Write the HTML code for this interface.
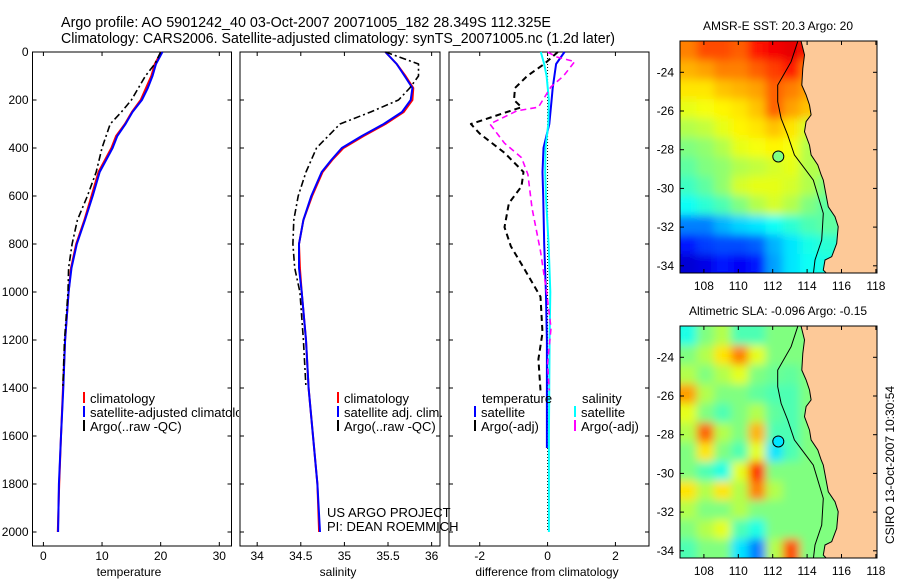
<!DOCTYPE html>
<html><head><meta charset="utf-8">
<style>
html,body{margin:0;padding:0;background:#fff;}
svg{display:block;font-family:"Liberation Sans",Arial,sans-serif;}
text{font-size:12px;fill:#000;}
</style></head>
<body>
<svg id="fig" width="900" height="580" viewBox="0 0 900 580" xmlns="http://www.w3.org/2000/svg">
<defs>
<filter id="smooth" x="-5%" y="-5%" width="110%" height="110%">
<feGaussianBlur stdDeviation="4.5"/>
<feComponentTransfer><feFuncA type="table" tableValues="1 1"/></feComponentTransfer>
</filter>
<clipPath id="clipTop"><rect x="680" y="41" width="197" height="232"/></clipPath>
<clipPath id="clipBot"><rect x="680" y="326" width="197" height="232"/></clipPath>
<clipPath id="clipLeg1"><rect x="0" y="0" width="239" height="580"/></clipPath>
</defs>
<text x="61" y="27" textLength="490" lengthAdjust="spacingAndGlyphs" style="font-size:15px">Argo profile: AO 5901242_40 03-Oct-2007 20071005_182 28.349S 112.325E</text>
<text x="61" y="43" textLength="554" lengthAdjust="spacingAndGlyphs" style="font-size:15px">Climatology: CARS2006. Satellite-adjusted climatology: synTS_20071005.nc (1.2d later)</text>
<g id="layer"></g>
</svg>
<script>
// ---------- DATA ----------
const tDepth = [0,50,100,150,200,250,300,350,400,500,600,700,800,900,1000,1200,1400,1600,1800,2000];
const tClim  = [20.1,19.0,18.4,17.5,16.6,15.1,13.9,12.4,11.6,9.4,8.2,7.0,5.6,4.7,4.3,3.7,3.35,3.0,2.7,2.45];
const tSat   = [20.3,19.2,18.6,17.8,16.8,15.2,14.0,12.6,11.8,9.6,8.4,7.1,5.7,4.8,4.3,3.7,3.4,3.0,2.65,2.5];
const aDepth = [0,50,100,150,200,250,300,400,500,600,700,800,900,1000,1200,1400];
const tArgo  = [20.0,19.0,17.4,16.2,15.0,13.3,11.4,10.0,9.0,7.5,5.8,4.9,4.3,4.2,3.6,3.3];
const sDepth = [0,50,100,150,200,250,300,350,400,450,500,600,700,800,900,1000,1200,1400,1600,1800,2000];
const sClim  = [35.47,35.6,35.70,35.79,35.78,35.68,35.47,35.22,34.99,34.86,34.75,34.63,34.53,34.48,34.49,34.51,34.56,34.59,34.64,34.69,34.71];
const sSat   = [35.47,35.6,35.69,35.78,35.76,35.66,35.45,35.20,34.97,34.85,34.74,34.62,34.53,34.48,34.48,34.51,34.56,34.59,34.64,34.69,34.72];
const sArgo  = [35.47,35.85,35.85,35.75,35.62,35.30,34.95,34.68,34.56,34.47,34.42,34.41,34.43,34.49,34.53,34.56];
const dtSatDepth = [0,50,100,150,200,300,400,500,600,800,1000,1200,1400,1650];
const dtSat  = [0.5,0.25,0.2,0.15,0.12,0.05,-0.12,-0.15,-0.13,-0.1,-0.05,-0.02,-0.02,-0.02];
const dsSatDepth = [0,50,100,200,300,400,500,600,800,1000,1200,1600,2000];
const dsSat  = [-0.2,-0.1,-0.03,0.04,0.02,-0.06,-0.07,-0.05,0.03,0.08,0.06,0.04,0.04];
const dtArgoDepth = [0,50,100,150,200,230,300,340,420,500,560,630,730,810,900,1020,1170,1280,1410];
const dtArgo = [0.3,-0.1,-0.6,-0.96,-0.99,-0.77,-2.26,-2.0,-1.27,-0.71,-0.77,-1.14,-1.27,-1.08,-0.7,-0.21,-0.15,-0.27,-0.21];
const dsArgoDepth = [0,20,40,100,145,230,245,300,380,440,510,650,830,1000,1150,1300,1410];
const dsArgo = [0.0,0.25,0.8,0.47,0.1,-0.27,-0.9,-1.7,-1.27,-0.77,-0.58,-0.46,-0.21,-0.03,0.1,0.0,0.05];
const depthTicks = [0,200,400,600,800,1000,1200,1400,1600,1800,2000];
const tTicks = [0,10,20,30];
const sTicks = [34,34.5,35,35.5,36];
const sTickLabels = ["34","34.5","35","35.5","36"];
const dTicks = [-2,0,2];
const sstGrid = [
 [21.5,21.8,21.8,21.7,22.1,22.3,22.4,22.1,22.1,22.1,22.1,22.1],
 [21.2,21.3,21.5,21.5,21.7,21.9,22.1,21.5,21.5,21.5,21.5,21.5],
 [20.9,20.9,21.1,21.2,21.3,21.7,21.5,21.3,21.3,21.3,21.3,21.3],
 [20.6,20.7,20.8,20.9,21.1,21.7,21.3,21.1,21.1,21.1,21.1,21.1],
 [20.3,20.4,20.6,20.8,20.9,21.1,20.9,20.5,20.5,20.5,20.5,20.5],
 [20.0,20.1,20.3,20.6,20.7,20.8,20.7,20.3,20.3,20.3,20.3,20.3],
 [19.8,20.0,20.1,20.3,20.4,20.5,20.6,20.3,20.3,20.3,20.3,20.3],
 [19.6,19.8,20.1,20.5,20.6,20.6,20.5,20.3,20.0,20.0,20.0,20.0],
 [19.3,19.5,19.7,20.0,20.3,20.5,20.3,20.0,19.8,19.8,19.8,19.8],
 [18.5,18.5,18.8,19.0,19.1,19.3,19.5,19.7,19.8,19.8,19.8,19.8],
 [17.9,18.1,18.2,18.2,18.3,18.8,19.1,19.4,19.5,19.5,19.5,19.5],
 [17.5,17.6,17.9,17.7,17.9,18.7,19.1,19.3,19.4,19.4,19.4,19.4]];
const slaGrid = [
 [-0.10,0.00,0.05,-0.05,-0.05,0.00,0.00,0.00,0,0,0,0],
 [0.00,0.05,0.15,0.25,0.10,0.00,0.00,0.00,0,0,0,0],
 [0.05,0.00,0.05,0.10,0.00,-0.02,-0.03,0.00,0,0,0,0],
 [0.22,0.05,0.00,0.00,-0.03,-0.05,-0.05,0.00,0,0,0,0],
 [0.10,0.00,-0.05,0.00,0.05,-0.03,-0.05,0.00,0,0,0,0],
 [0.05,0.28,0.05,0.00,0.20,-0.05,-0.05,0.00,0,0,0,0],
 [0.00,0.15,0.00,-0.05,0.10,-0.15,-0.05,0.00,0,0,0,0],
 [0.00,-0.05,-0.10,0.10,0.33,0.00,0.00,0.00,0,0,0,0],
 [0.15,0.05,0.15,0.05,0.25,0.05,0.00,0.00,0,0,0,0],
 [0.05,0.00,0.00,0.05,0.00,0.00,0.00,0.00,0,0,0,0],
 [0.00,0.05,0.10,-0.05,-0.10,0.00,0.00,0.00,0,0,0,0],
 [-0.05,0.00,0.00,-0.15,-0.25,0.05,0.30,0.00,0,0,0,0]];
const coastLon = [113.65,113.85,113.75,113.69,113.94,114.14,114.23,113.94,113.85,114.14,114.23,114.62,114.82,114.94,115.23,115.62,115.81,115.72,115.43,115.04,114.94,115.14];
const coastLat = [-22.4,-23.1,-23.8,-24.66,-25.17,-25.69,-26.2,-26.55,-27.07,-27.76,-28.27,-28.79,-29.31,-29.57,-30.95,-31.46,-31.98,-32.84,-33.53,-33.70,-34.22,-34.4];
const isoLon = [113.46,113.07,112.29,112.29,112.49,112.87,113.26,113.85,114.36,114.94,114.85,114.46,114.36];
const isoLat = [-22.4,-23.45,-24.66,-25.52,-26.38,-27.24,-28.27,-28.96,-29.57,-31.29,-32.67,-33.70,-34.44];
const argoLon = 112.325, argoLat = -28.349;
const argoSST = 20, argoSLA = -0.15;
const latTicks = [-24,-26,-28,-30,-32,-34];
const lonTicks = [108,110,112,114,116,118];

// ---------- HELPERS ----------
const NS = "http://www.w3.org/2000/svg";
const layer = document.getElementById('layer');
function mk(tag, attrs, parent){ const e=document.createElementNS(NS,tag); for(const k in attrs) e.setAttribute(k,attrs[k]); (parent||layer).appendChild(e); return e; }
const yD = d => 52 + d*0.24;
const panels = [
 {x0:32.5,x1:231.5,vmin:-1.86,vmax:32.08,name:'temperature-panel'},
 {x0:240,x1:440,vmin:33.803,vmax:36.096,name:'salinity-panel'},
 {x0:449,x1:649,vmin:-2.906,vmax:2.99,name:'difference-panel'}];
const px = (p,v) => p.x0 + (v-p.vmin)/(p.vmax-p.vmin)*(p.x1-p.x0);
function line(p, vals, depths, color, w, dash, name){
  let d=''; vals.forEach((v,i)=>{ d += (i?'L':'M') + px(p,v).toFixed(1)+','+yD(depths[i]).toFixed(1); });
  const e = mk('path',{d:d,fill:'none',stroke:color,'stroke-width':w,'stroke-dasharray':dash||'none','stroke-linejoin':'round'});
  
  
}
function txt(x,y,s,opts,name,parent){ const e=mk('text',Object.assign({x:x,y:y},opts||{}),parent); e.textContent=s;
  
   return e; }

// ---------- PROFILE PANELS ----------
const yTop=52, yBot=546;
panels.forEach((p,pi)=>{
  const r = mk('rect',{x:p.x0,y:yTop,width:p.x1-p.x0,height:yBot-yTop,fill:'none',stroke:'#000','stroke-width':1});
  
  
  depthTicks.forEach(d=>{
    mk('line',{x1:p.x0,x2:p.x0+4,y1:yD(d),y2:yD(d),stroke:'#000'});
    mk('line',{x1:p.x1-4,x2:p.x1,y1:yD(d),y2:yD(d),stroke:'#000'});
    if(pi===0) txt(p.x0-4,yD(d)+4,String(d),{'text-anchor':'end'},'depth-tick-label');
  });
});
const pT=panels[0], pS=panels[1], pD=panels[2];
tTicks.forEach(v=>{ mk('line',{x1:px(pT,v),x2:px(pT,v),y1:yBot,y2:yBot-4,stroke:'#000'}); mk('line',{x1:px(pT,v),x2:px(pT,v),y1:yTop,y2:yTop+4,stroke:'#000'}); txt(px(pT,v),560,String(v),{'text-anchor':'middle'},'temperature-tick-label'); });
sTicks.forEach((v,i)=>{ mk('line',{x1:px(pS,v),x2:px(pS,v),y1:yBot,y2:yBot-4,stroke:'#000'}); mk('line',{x1:px(pS,v),x2:px(pS,v),y1:yTop,y2:yTop+4,stroke:'#000'}); txt(px(pS,v),560,sTickLabels[i],{'text-anchor':'middle'},'salinity-tick-label'); });
dTicks.forEach(v=>{ mk('line',{x1:px(pD,v),x2:px(pD,v),y1:yBot,y2:yBot-4,stroke:'#000'}); mk('line',{x1:px(pD,v),x2:px(pD,v),y1:yTop,y2:yTop+4,stroke:'#000'}); txt(px(pD,v),560,String(v),{'text-anchor':'middle'},'difference-tick-label'); });
txt(129,576,'temperature',{'text-anchor':'middle'},'x-axis-title-temperature');
txt(338,576,'salinity',{'text-anchor':'middle'},'x-axis-title-salinity');
txt(547,576,'difference from climatology',{'text-anchor':'middle'},'x-axis-title-difference');

line(pT,tClim,tDepth,'#f00',2,null,'temperature-climatology-line');
line(pT,tSat,tDepth,'#00f',2,null,'temperature-satellite-line');
line(pT,tArgo,aDepth,'#000',1.6,'7,3,2,3','temperature-argo-line');
line(pS,sClim,sDepth,'#f00',2,null,'salinity-climatology-line');
line(pS,sSat,sDepth,'#00f',2,null,'salinity-satellite-line');
line(pS,sArgo,aDepth,'#000',1.6,'7,3,2,3','salinity-argo-line');
mk('line',{x1:px(pD,0),x2:px(pD,0),y1:yD(0),y2:yD(2000),stroke:'#000','stroke-width':1,'stroke-dasharray':'1,2'});
line(pD,dtSat,dtSatDepth,'#00f',2,null,'diff-temperature-satellite-line');
line(pD,dsSat,dsSatDepth,'#0ff',2,null,'diff-salinity-satellite-line');
line(pD,dtArgo,dtArgoDepth,'#000',2,'6,4','diff-temperature-argo-line');
line(pD,dsArgo,dsArgoDepth,'#f0f',1.6,'6,4','diff-salinity-argo-line');

// legends
const leg1 = mk('g',{'clip-path':'url(#clipLeg1)'});
function leg(x,y,color,label,name,parent){ mk('line',{x1:x,x2:x,y1:y-11,y2:y,stroke:color,'stroke-width':2},parent); txt(x+6,y,label,{style:'font-size:13px'},name,parent); }
leg(84,403,'#f00','climatology','legend-climatology',leg1);
leg(84,417,'#00f','satellite-adjusted climatology','legend-satellite-adjusted',leg1);
leg(84,431,'#000','Argo(..raw -QC)','legend-argo',leg1);
leg(338,403,'#f00','climatology','legend-climatology-sal');
leg(338,417,'#00f','satellite adj. clim.','legend-satellite-sal');
leg(338,431,'#000','Argo(..raw -QC)','legend-argo-sal');
txt(482,403,'temperature',{style:'font-size:13px'},'legend-header-temperature');
txt(582,403,'salinity',{style:'font-size:13px'},'legend-header-salinity');
leg(475,417,'#00f','satellite','legend-diff-temp-satellite');
leg(475,431,'#000','Argo(-adj)','legend-diff-temp-argo');
leg(575,417,'#0ff','satellite','legend-diff-sal-satellite');
leg(575,431,'#f0f','Argo(-adj)','legend-diff-sal-argo');
txt(327,517,'US ARGO PROJECT',{style:'font-size:13px'},'credit-project');
txt(327,531,'PI: DEAN ROEMMICH',{style:'font-size:13px'},'credit-pi');

// ---------- MAPS ----------
function jet(v){ v=Math.max(0,Math.min(1,v)); const c=x=>Math.round(255*Math.max(0,Math.min(1,1.5-Math.abs(x)))); return 'rgb('+c(4*v-3)+','+c(4*v-2)+','+c(4*v-1)+')'; }
function drawMap(top, grid, vmin, vmax, argoVal, clip, title, nm){
  const lx = lon => 772.7 + (lon-112)*17.2;
  const ly = lat => top + 31.3 + (-24-lat)*19.35;
  const g = mk('g',{'clip-path':'url(#'+clip+')'});
  
  
  const gh = mk('g',{filter:'url(#smooth)'},g);
  grid.forEach((row,r)=>row.forEach((v,c)=>{
    const x0=lx(106.6+c), x1=lx(107.6+c), y0=ly(-22.4-r), y1=ly(-23.4-r);
    mk('rect',{x:x0-0.3,y:y0-0.3,width:x1-x0+0.6,height:y1-y0+0.6,fill:jet((v-vmin)/(vmax-vmin))},gh);
  }));
  let d='M'+lx(118.6)+','+ly(-22.0);
  d+='L'+lx(coastLon[0])+','+ly(-22.0);
  coastLon.forEach((lo,i)=>{ d+='L'+lx(lo).toFixed(1)+','+ly(coastLat[i]).toFixed(1); });
  d+='L'+lx(115.14)+','+ly(-35)+'L'+lx(118.6)+','+ly(-35)+'Z';
  const land = mk('path',{d:d,fill:'#fdc998',stroke:'#000','stroke-width':1},g);
  
  
  let di=''; isoLon.forEach((lo,i)=>{ di+=(i?'L':'M')+lx(lo).toFixed(1)+','+ly(isoLat[i]).toFixed(1); });
  const iso = mk('path',{d:di,fill:'none',stroke:'#000','stroke-width':1},g);
  
  
  const circ = mk('circle',{cx:lx(argoLon),cy:ly(argoLat),r:5.5,fill:jet((argoVal-vmin)/(vmax-vmin)),stroke:'#000','stroke-width':1});
  
  
  const fr = mk('rect',{x:680,y:top,width:197,height:232,fill:'none',stroke:'#000'});
  
  
  latTicks.forEach(l=>{ mk('line',{x1:680,x2:684,y1:ly(l),y2:ly(l),stroke:'#000'}); mk('line',{x1:873,x2:877,y1:ly(l),y2:ly(l),stroke:'#000'}); txt(674,ly(l)+4,String(l),{'text-anchor':'end'},nm+'-lat-label'); });
  lonTicks.forEach(l=>{ mk('line',{x1:lx(l),x2:lx(l),y1:top,y2:top+4,stroke:'#000'}); mk('line',{x1:lx(l),x2:lx(l),y1:top+232,y2:top+228,stroke:'#000'}); txt(lx(l),top+249,String(l),{'text-anchor':'middle'},nm+'-lon-label'); });
  txt(778,top-11,title,{'text-anchor':'middle'},nm+'-title');
}
drawMap(41, sstGrid, 17, 23, argoSST, 'clipTop', 'AMSR-E SST: 20.3 Argo: 20', 'sst');
drawMap(326, slaGrid, -0.5, 0.5, argoSLA, 'clipBot', 'Altimetric SLA: -0.096 Argo: -0.15', 'sla');
txt(0,0,'CSIRO 13-Oct-2007 10:30:54',{transform:'translate(894,465) rotate(-90)','text-anchor':'middle'},'timestamp-label');
</script>
</body></html>
